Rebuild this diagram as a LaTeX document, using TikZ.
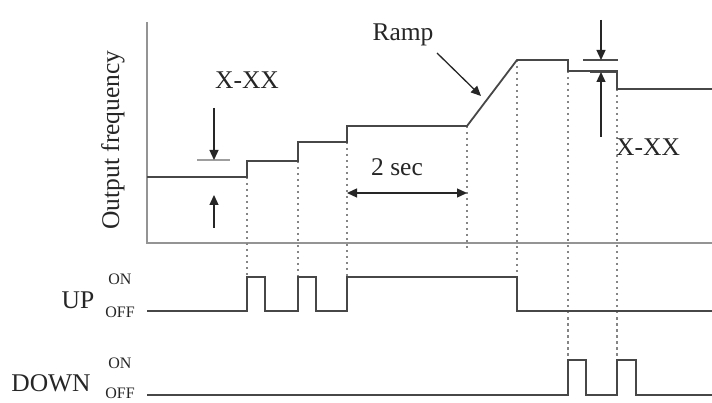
\documentclass[tikz,border=0pt]{standalone}
\usepackage{fontspec}
\setmainfont{Liberation Serif}
\usetikzlibrary{arrows.meta}
\begin{document}
\begin{tikzpicture}[x=1pt,y=-1pt,
  axisline/.style={draw=black!42, line width=2.4pt},
  sig/.style={draw=black!72, line width=1.8pt, line join=miter},
  guide/.style={draw=black!48, line width=2pt, dash pattern=on 2.5pt off 3.5pt},
  arr/.style={draw=black!85, line width=1.3pt, -{Triangle[length=10pt,width=9pt]}},
  dblarr/.style={draw=black!85, line width=1.3pt, {Triangle[length=10pt,width=9pt]}-{Triangle[length=10pt,width=9pt]}},
  bar/.style={draw=black!38, line width=2.4pt},
  lbl/.style={font=\fontsize{25.5}{25.5}\selectfont, inner sep=0pt, text=black!85},
  small/.style={font=\fontsize{16}{16}\selectfont, inner sep=0pt, text=black!85}]
\useasboundingbox (0,0) rectangle (712,403);
\fill[white] (0,0) rectangle (712,403);

% axes
\coordinate (ytop) at (147,22);
\coordinate (orig) at (147,243);
\coordinate (xend) at (712,243);
\draw[axisline] (ytop) -- (orig) -- (xend);

% frequency curve points
\coordinate (f0) at (147,177);
\coordinate (f1) at (247,177);
\coordinate (f1u) at (247,161);
\coordinate (f2) at (298,161);
\coordinate (f2u) at (298,142);
\coordinate (f3) at (347,142);
\coordinate (f3u) at (347,126);
\coordinate (f4) at (467,126);
\coordinate (f5) at (517,60);
\coordinate (f6) at (568,60);
\coordinate (f6d) at (568,71);
\coordinate (f7) at (617,71);
\coordinate (f7d) at (617,89);
\coordinate (f8) at (712,89);

% UP signal
\coordinate (u0) at (147,311);
\coordinate (u1) at (247,311);
\coordinate (u1h) at (247,277);
\coordinate (u2h) at (265,277);
\coordinate (u2) at (265,311);
\coordinate (u3) at (298,311);
\coordinate (u3h) at (298,277);
\coordinate (u4h) at (316,277);
\coordinate (u4) at (316,311);
\coordinate (u5) at (347,311);
\coordinate (u5h) at (347,277);
\coordinate (u6h) at (517,277);
\coordinate (u6) at (517,311);
\coordinate (u7) at (712,311);

% DOWN signal
\coordinate (d0) at (147,395);
\coordinate (d1) at (568,395);
\coordinate (d1h) at (568,360);
\coordinate (d2h) at (586,360);
\coordinate (d2) at (586,395);
\coordinate (d3) at (617,395);
\coordinate (d3h) at (617,360);
\coordinate (d4h) at (636,360);
\coordinate (d4) at (636,395);
\coordinate (d5) at (712,395);

% guides
\coordinate (g4) at (467,250);
\draw[guide] (f1) -- (u1h);
\draw[guide] (f2) -- (u3h);
\draw[guide] (f3) -- (u5h);
\draw[guide] (f4) -- (g4);
\draw[guide] (f5) -- (u6h);
\draw[guide] (f6d) -- (d1h);
\draw[guide] (f7d) -- (d3h);

% markers
\coordinate (lb1) at (197,160);
\coordinate (lb2) at (230,160);
\draw[bar] (lb1) -- (lb2);
\coordinate (rb1) at (583,60);
\coordinate (rb2) at (618,60);
\draw[draw=black!70, line width=1.8pt] (rb1) -- (rb2);
\coordinate (rc1) at (590,72);
\coordinate (rc2) at (617,72);
\draw[draw=black!70, line width=1.8pt] (rc1) -- (rc2);

% curves
\draw[sig] (f0) -- (f1) -- (f1u) -- (f2) -- (f2u) -- (f3) -- (f3u) -- (f4) -- (f5) -- (f6) -- (f6d) -- (f7) -- (f7d) -- (f8);
\draw[sig] (u0) -- (u1) -- (u1h) -- (u2h) -- (u2) -- (u3) -- (u3h) -- (u4h) -- (u4) -- (u5) -- (u5h) -- (u6h) -- (u6) -- (u7);
\draw[sig] (d0) -- (d1) -- (d1h) -- (d2h) -- (d2) -- (d3) -- (d3h) -- (d4h) -- (d4) -- (d5);

% arrows
\coordinate (la1) at (214,108);
\coordinate (la2) at (214,160);
\draw[arr] (la1) -- (la2);
\coordinate (la3) at (214,228);
\coordinate (la4) at (214,195);
\draw[arr] (la3) -- (la4);
\coordinate (ra1) at (601,20);
\coordinate (ra2) at (601,60);
\draw[arr] (ra1) -- (ra2);
\coordinate (ra3) at (601,137);
\coordinate (ra4) at (601,72);
\draw[arr] (ra3) -- (ra4);
\coordinate (rp1) at (437,53);
\coordinate (rp2) at (481,96);
\draw[arr] (rp1) -- (rp2);
\coordinate (ts1) at (347,193);
\coordinate (ts2) at (467,193);
\draw[dblarr] (ts1) -- (ts2);

% labels
\node[lbl, rotate=90] (ylab) at (113,140) {Output frequency};
\node[lbl] (xxl) at (247,80) {X-XX};
\node[lbl] (ramp) at (403,35) {Ramp};
\node[lbl] (twosec) at (397,167) {2 sec};
\node[lbl, anchor=west] (xxr) at (616,147) {X-XX};
\node[lbl] (up) at (78,300) {UP};
\node[small] (upon) at (120,279) {ON};
\node[small] (upoff) at (120,312) {OFF};
\node[lbl] (down) at (51,383) {DOWN};
\node[small] (dnon) at (120,363) {ON};
\node[small] (dnoff) at (120,393) {OFF};
\end{tikzpicture}
\end{document}
